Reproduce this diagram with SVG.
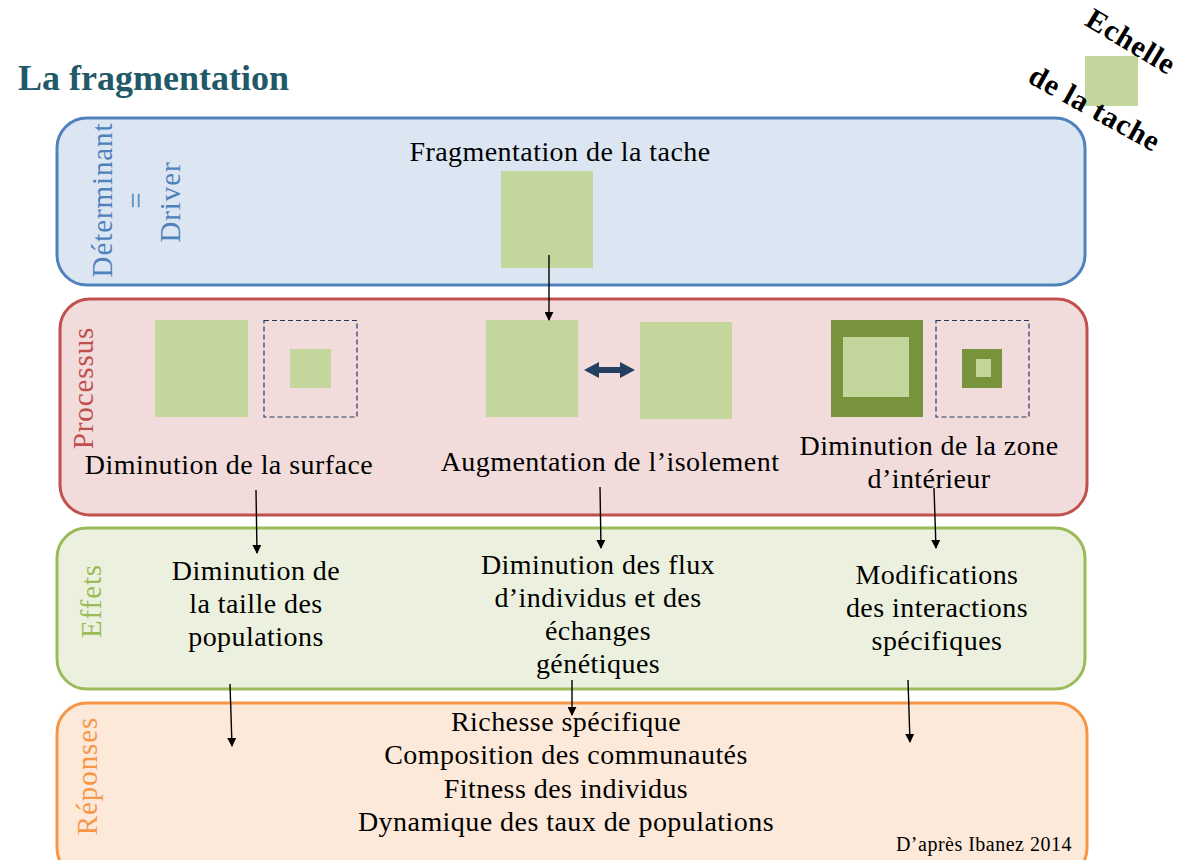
<svg xmlns="http://www.w3.org/2000/svg" width="1183" height="860" viewBox="0 0 1183 860">
  <defs>
    <style>
      .t { font-family: "Liberation Serif", "Times New Roman", serif; font-size: 28px; letter-spacing: 0.45px; fill: #000; text-anchor: middle; }
      .side { font-family: "Liberation Serif", "Times New Roman", serif; font-size: 29px; letter-spacing: 0.9px; text-anchor: middle; }
      .legend { font-family: "Liberation Serif", "Times New Roman", serif; font-size: 30px; font-weight: bold; letter-spacing: 0.8px; text-anchor: middle; }
      .patch { fill: #C3D69B; }
      .dark { fill: #77933C; }
      .dash { fill: none; stroke: #1F3864; stroke-width: 1.2; stroke-dasharray: 5 3; }
      .link { stroke: #000; stroke-width: 1.4; fill: none; marker-end: url(#head); }
    </style>
    <marker id="head" viewBox="0 0 10 10" refX="9" refY="5" markerWidth="9" markerHeight="9" markerUnits="userSpaceOnUse" orient="auto">
      <path d="M0,0 L10,5 L0,10 z" fill="#000"/>
    </marker>
  </defs>

  <rect width="1183" height="860" fill="#fff"/>

  <!-- title -->
  <text x="18" y="90" font-family="Liberation Serif, serif" font-size="36" font-weight="bold" fill="#215968">La fragmentation</text>

  <!-- scale legend -->
  <g id="legend">
    <rect class="patch" x="1085" y="56" width="53" height="50"/>
    <text class="legend" transform="translate(1126,50) rotate(31)">Echelle</text>
    <text class="legend" transform="translate(1090,117) rotate(29)">de la tache</text>
  </g>

  <!-- driver band -->
  <g id="driver">
    <rect x="57" y="118" width="1028" height="167" rx="30" fill="#DCE6F2" stroke="#4F81BD" stroke-width="3"/>
    <text class="side" fill="#4F81BD" transform="translate(112,200) rotate(-90)">Déterminant</text>
    <text class="side" fill="#4F81BD" transform="translate(146,200) rotate(-90)">=</text>
    <text class="side" fill="#4F81BD" transform="translate(180,202) rotate(-90)">Driver</text>
    <text class="t" x="560" y="161">Fragmentation de la tache</text>
    <rect class="patch" x="501" y="171" width="92" height="97"/>
  </g>

  <!-- process band -->
  <g id="processus">
    <rect x="60" y="299" width="1027" height="216" rx="30" fill="#F2DCDB" stroke="#C0504D" stroke-width="3"/>
    <text class="side" fill="#C0504D" transform="translate(93,388) rotate(-90)">Processus</text>
  </g>

  <g id="surface">
    <rect class="patch" x="155" y="320" width="93" height="97"/>
    <rect class="dash" x="264" y="320.5" width="93" height="96.5"/>
    <rect class="patch" x="290" y="349" width="41" height="39"/>
    <text class="t" x="229" y="474">Diminution de la surface</text>
  </g>

  <g id="isolement">
    <rect class="patch" x="486" y="320" width="92" height="97"/>
    <rect class="patch" x="640" y="322" width="92" height="97"/>
    <path d="M584,370 L599,362 L599,367 L620,367 L620,362 L635,370 L620,378 L620,373 L599,373 L599,378 Z" fill="#243F60"/>
    <text class="t" x="610" y="471">Augmentation de l’isolement</text>
  </g>

  <g id="interieur">
    <rect class="dark" x="831" y="320" width="92" height="97"/>
    <rect class="patch" x="843" y="337" width="66" height="60"/>
    <rect class="dash" x="936" y="320.5" width="93" height="96.5"/>
    <rect class="dark" x="962" y="349" width="40" height="39"/>
    <rect class="patch" x="976" y="359" width="15" height="18"/>
    <text class="t" x="929" y="455">Diminution de la zone</text>
    <text class="t" x="929" y="488">d’intérieur</text>
  </g>

  <!-- effects band -->
  <g id="effets">
    <rect x="57" y="528" width="1028" height="161" rx="30" fill="#EBF1DE" stroke="#9BBB59" stroke-width="3"/>
    <text class="side" fill="#9BBB59" transform="translate(101,601) rotate(-90)">Effets</text>
  </g>

  <g id="taille">
    <text class="t" x="256" y="580">Diminution de</text>
    <text class="t" x="256" y="613">la taille des</text>
    <text class="t" x="256" y="646">populations</text>
  </g>

  <g id="flux">
    <text class="t" x="598" y="574">Diminution des flux</text>
    <text class="t" x="598" y="607">d’individus et des</text>
    <text class="t" x="598" y="640">échanges</text>
    <text class="t" x="598" y="673">génétiques</text>
  </g>

  <g id="interactions">
    <text class="t" x="937" y="584">Modifications</text>
    <text class="t" x="937" y="617">des interactions</text>
    <text class="t" x="937" y="650">spécifiques</text>
  </g>

  <!-- responses band -->
  <g id="reponses">
    <rect x="57" y="703" width="1030" height="175" rx="30" fill="#FDE9D9" stroke="#F79646" stroke-width="3"/>
    <text class="side" fill="#F79646" transform="translate(97,776) rotate(-90)">Réponses</text>
    <text class="t" x="566" y="731">Richesse spécifique</text>
    <text class="t" x="566" y="764">Composition des communautés</text>
    <text class="t" x="566" y="798">Fitness des individus</text>
    <text class="t" x="566" y="831">Dynamique des taux de populations</text>
    <text x="1072" y="851" font-family="Liberation Serif, serif" font-size="20" letter-spacing="0.5" text-anchor="end">D’après Ibanez 2014</text>
  </g>

  <!-- connectors -->
  <g id="connectors">
    <line class="link" x1="549" y1="255" x2="549" y2="320"/>
    <line class="link" x1="256" y1="490" x2="257" y2="553"/>
    <line class="link" x1="600" y1="487" x2="601" y2="548"/>
    <line class="link" x1="934" y1="488" x2="936" y2="548"/>
    <line class="link" x1="230" y1="684" x2="232" y2="746"/>
    <line class="link" x1="572" y1="680" x2="572" y2="715"/>
    <line class="link" x1="908" y1="680" x2="910" y2="742"/>
  </g>
</svg>
